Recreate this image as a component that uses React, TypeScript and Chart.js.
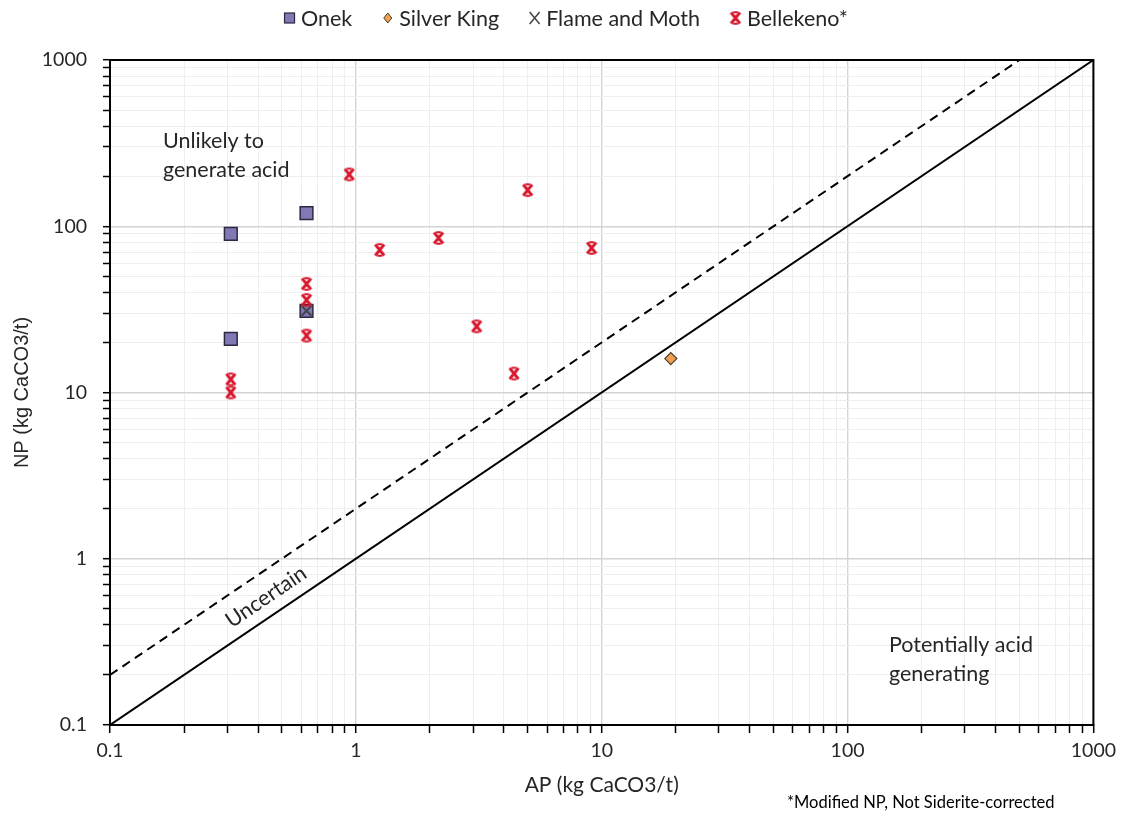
import React, { useEffect, useRef } from 'react';
import { Chart, registerables } from 'chart.js';

Chart.register(...registerables);

// ---- data ----
const seriesNames = ['Onek', 'Silver King', 'Flame and Moth', 'Bellekeno*'];
const onekAP = [0.31, 0.63, 0.31, 0.63];
const onekNP = [90, 120, 21, 31];
const silverKingAP = [19.1];
const silverKingNP = [16];
const flameMothAP = [0.63];
const flameMothNP = [31];
const bellekenoAP = [0.94, 5.0, 1.25, 2.17, 9.1, 3.1, 4.4, 0.63, 0.63, 0.63, 0.31, 0.31];
const bellekenoNP = [205, 165, 72, 85, 74, 25, 13, 45, 36, 22, 12, 10];
const neutralLineAP = [0.1, 1000];
const neutralLineNP = [0.1, 1000];
const uncertainLineAP = [0.1, 500];
const uncertainLineNP = [0.2, 1000];
const decadeValues = [0.1, 1, 10, 100, 1000];
const tickLabels = ['0.1', '1', '10', '100', '1000'];
const xTitle = 'AP (kg CaCO3/t)';
const yTitle = 'NP (kg CaCO3/t)';
const footnote = '*Modified NP, Not Siderite-corrected';

const FONT = 'Lato, "Noto Sans", sans-serif';
const ONEK_FILL = '#8079b6';
const ONEK_BORDER = '#2b2940';
const SK_FILL = '#eea050';
const SK_BORDER = '#4a3a2a';
const FM_COLOR = '#444444';
const BK_COLOR = '#d8162c';

const pts = (xs: number[], ys: number[]) => xs.map((x, i) => ({ x, y: ys[i] }));

function makeBellekenoMarker(): HTMLCanvasElement {
  const c = document.createElement('canvas');
  c.width = 16;
  c.height = 16;
  const g = c.getContext('2d')!;
  g.strokeStyle = BK_COLOR;
  g.lineWidth = 2.8;
  g.lineCap = 'butt';
  g.beginPath();
  g.moveTo(3.5, 2.5); g.lineTo(12.5, 13.5);
  g.moveTo(12.5, 2.5); g.lineTo(3.5, 13.5);
  g.stroke();
  g.lineWidth = 2;
  g.beginPath();
  g.moveTo(5.5, 2.2); g.lineTo(10.5, 2.2);
  g.moveTo(5.5, 13.8); g.lineTo(10.5, 13.8);
  g.stroke();
  return c;
}

function allLogTicks() {
  const out: { value: number }[] = [];
  for (let e = -1; e <= 3; e++) {
    for (let m = 1; m <= 9; m++) {
      const v = Number((m * Math.pow(10, e)).toPrecision(6));
      if (v <= 1000) out.push({ value: v });
    }
  }
  return out;
}
const isDecade = (v: number) => decadeValues.some((d) => Math.abs(d - v) / d < 1e-6);
const labelFor = (v: number) => {
  const i = decadeValues.findIndex((d) => Math.abs(d - v) / d < 1e-6);
  return i >= 0 ? tickLabels[i] : '';
};

export default function App() {
  const ref = useRef<HTMLCanvasElement>(null);
  useEffect(() => {
    const bkMarker = makeBellekenoMarker();

    const decorPlugin = {
      id: 'decor',
      beforeDatasetsDraw(chart: any) {
        const { ctx, chartArea: a } = chart;
        ctx.save();
        ctx.strokeStyle = '#000';
        ctx.lineWidth = 2;
        ctx.strokeRect(a.left, a.top, a.right - a.left, a.bottom - a.top);
        ctx.restore();
      },
      afterDraw(chart: any) {
        const { ctx } = chart;
        ctx.save();
        ctx.fillStyle = '#262626';
        ctx.textBaseline = 'middle';
        ctx.textAlign = 'left';
        ctx.font = `21.5px ${FONT}`;
        ctx.fillText('Unlikely to', 163, 141);
        ctx.fillText('generate acid', 163, 170);
        ctx.fillText('Potentially acid', 889, 645);
        ctx.fillText('generating', 889, 674);
        // Uncertain, rotated along the 1:1 line
        const xs = chart.scales.x, ys = chart.scales.y;
        const dx = xs.getPixelForValue(1000) - xs.getPixelForValue(0.1);
        const dy = ys.getPixelForValue(1000) - ys.getPixelForValue(0.1);
        const ang = Math.atan2(dy, dx);
        ctx.save();
        ctx.translate(266, 597);
        ctx.rotate(ang);
        ctx.textAlign = 'center';
        ctx.fillText('Uncertain', 0, 0);
        ctx.restore();
        // footnote
        ctx.font = `16.5px ${FONT}`;
        ctx.fillStyle = '#000';
        ctx.fillText(footnote, 787, 803);

        // legend
        ctx.font = `21.5px ${FONT}`;
        const gap = 6, markerW = 11, spacing = 30;
        const widths = seriesNames.map((n) => markerW + gap + ctx.measureText(n).width);
        const total = widths.reduce((s, w) => s + w, 0) + spacing * (seriesNames.length - 1);
        let x = 566 - total / 2;
        const y = 18;
        seriesNames.forEach((name, i) => {
          const cx = x + markerW / 2;
          ctx.save();
          if (i === 0) {
            ctx.fillStyle = ONEK_FILL;
            ctx.strokeStyle = ONEK_BORDER;
            ctx.lineWidth = 1.2;
            ctx.fillRect(cx - 5, y - 5, 10, 10);
            ctx.strokeRect(cx - 5, y - 5, 10, 10);
          } else if (i === 1) {
            ctx.fillStyle = SK_FILL;
            ctx.strokeStyle = SK_BORDER;
            ctx.lineWidth = 1;
            ctx.beginPath();
            ctx.moveTo(cx, y - 5); ctx.lineTo(cx + 4, y); ctx.lineTo(cx, y + 5); ctx.lineTo(cx - 4, y);
            ctx.closePath();
            ctx.fill(); ctx.stroke();
          } else if (i === 2) {
            ctx.strokeStyle = FM_COLOR;
            ctx.lineWidth = 1.5;
            ctx.beginPath();
            ctx.moveTo(cx - 5, y - 6); ctx.lineTo(cx + 5, y + 6);
            ctx.moveTo(cx + 5, y - 6); ctx.lineTo(cx - 5, y + 6);
            ctx.stroke();
          } else {
            ctx.drawImage(bkMarker, cx - 8, y - 8);
          }
          ctx.restore();
          ctx.fillStyle = '#262626';
          ctx.textAlign = 'left';
          ctx.textBaseline = 'middle';
          ctx.fillText(name, x + markerW + gap, y + 1);
          x += widths[i] + spacing;
        });
        ctx.restore();
      },
    };

    const gridColor = (c: any) => (c.tick && isDecade(c.tick.value) ? '#d4d4d4' : '#eeeeee');
    const gridWidth = (c: any) => (c.tick && isDecade(c.tick.value) ? 1.4 : 1);

    const chart = new Chart(ref.current!, {
      type: 'scatter',
      data: {
        datasets: [
          {
            label: 'Uncertain boundary',
            data: pts(uncertainLineAP, uncertainLineNP),
            showLine: true,
            borderColor: '#000',
            borderWidth: 2,
            borderDash: [9, 6],
            pointRadius: 0,
            order: 5,
          },
          {
            label: '1:1',
            data: pts(neutralLineAP, neutralLineNP),
            showLine: true,
            borderColor: '#000',
            borderWidth: 2,
            pointRadius: 0,
            order: 5,
          },
          {
            label: seriesNames[0],
            data: pts(onekAP, onekNP),
            pointStyle: 'rect',
            pointRadius: 9,
            backgroundColor: ONEK_FILL,
            borderColor: ONEK_BORDER,
            borderWidth: 1.5,
            order: 3,
          },
          {
            label: seriesNames[1],
            data: pts(silverKingAP, silverKingNP),
            pointStyle: 'rectRot',
            pointRadius: 6,
            backgroundColor: SK_FILL,
            borderColor: SK_BORDER,
            borderWidth: 1.2,
            order: 2,
          },
          {
            label: seriesNames[2],
            data: pts(flameMothAP, flameMothNP),
            pointStyle: 'crossRot',
            pointRadius: 7,
            borderColor: FM_COLOR,
            borderWidth: 2,
            order: 1,
          },
          {
            label: seriesNames[3],
            data: pts(bellekenoAP, bellekenoNP),
            pointStyle: bkMarker as any,
            pointRadius: 8,
            order: 0,
          },
        ],
      },
      plugins: [decorPlugin],
      options: {
        responsive: false,
        animation: false,
        events: [],
        layout: { padding: { top: 60, right: 27, left: 0, bottom: 0 } },
        plugins: {
          legend: { display: false },
          tooltip: { enabled: false },
        },
        scales: {
          x: {
            type: 'logarithmic',
            min: 0.1,
            max: 1000,
            afterBuildTicks: (s: any) => { s.ticks = allLogTicks(); },
            afterFit: (s: any) => { s.height = 89; },
            ticks: {
              autoSkip: false,
              maxRotation: 0,
              padding: 6,
              color: '#262626',
              font: { family: FONT, size: 19.5 },
              callback: (v: any) => labelFor(Number(v)),
            },
            grid: {
              color: gridColor,
              lineWidth: gridWidth,
              tickColor: '#000',
              tickLength: 8,
              tickWidth: 1.5,
            },
            border: { color: '#000', width: 2 },
            title: {
              display: true,
              text: xTitle,
              color: '#262626',
              font: { family: FONT, size: 21 },
              padding: { top: 4, bottom: 16 },
            },
          },
          y: {
            type: 'logarithmic',
            min: 0.1,
            max: 1000,
            afterBuildTicks: (s: any) => { s.ticks = allLogTicks(); },
            afterFit: (s: any) => { s.width = 110; },
            ticks: {
              autoSkip: false,
              padding: 16,
              color: '#262626',
              font: { family: FONT, size: 19.5 },
              callback: (v: any) => labelFor(Number(v)),
            },
            grid: {
              color: gridColor,
              lineWidth: gridWidth,
              tickColor: '#000',
              tickLength: 7,
              tickWidth: 1.5,
            },
            border: { color: '#000', width: 2 },
            title: {
              display: true,
              text: yTitle,
              color: '#262626',
              font: { family: '"Liberation Sans", Arial, sans-serif', size: 20 },
              padding: { top: 10, bottom: 0 },
            },
          },
        },
      },
    });
    return () => chart.destroy();
  }, []);

  return (
    <div style={{ position: 'absolute', left: 0, top: 0, width: 1122, height: 814, background: '#fff' }}>
      <canvas ref={ref} width={1122} height={814} style={{ display: 'block' }} />
    </div>
  );
}
